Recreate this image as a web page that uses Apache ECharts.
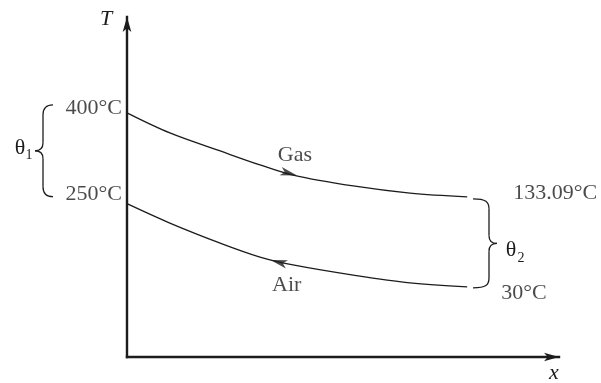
<!DOCTYPE html>
<html>
<head>
<meta charset="utf-8">
<script src="https://cdn.jsdelivr.net/npm/echarts@6/dist/echarts.min.js"></script>
<style>
  html, body { margin: 0; padding: 0; background: #fff; }
  #chart { width: 601px; height: 383px; }
</style>
</head>
<body>
<div id="chart"></div>
<script>
// Position along the exchanger (0 = left end, 1 = right end)
const positions = [0, 0.126, 0.274, 0.391, 0.488, 0.665, 0.832, 1.0];
// Schematic temperature levels of the two streams (sketch, not to scale)
const gasLevel = [71.8, 65.9, 60.6, 56.5, 53.5, 50.3, 48.2, 47.1];
const airLevel = [45.1, 39.4, 33.5, 29.4, 27.1, 24.1, 21.8, 20.6];
// Terminal temperatures in °C: [left end, right end]
const gasTemps = [400, 133.09];
const airTemps = [250, 30];
const streamNames = ['Gas', 'Air'];
// Where the flow-direction arrowhead sits on each stream
const gasArrow = [0.476, 54.0];
const airArrow = [0.446, 27.9];

const ink = '#1e1b1c';
const serif = "'Liberation Serif', 'Times New Roman', serif";
const fs = 22;
const last = positions.length - 1;

const chart = echarts.init(document.getElementById('chart'), null, { renderer: 'canvas' });

const pts = levels => positions.map((p, i) => [p, levels[i]]);
const fmt = t => t + '°C';
const textStyle = { color: ink, fontFamily: serif, fontSize: fs };

function endPoint(value, text, pos, distance, offset) {
  return { value: value,
           label: Object.assign({ show: true, position: pos, distance: distance,
                                  offset: offset, formatter: text }, textStyle) };
}

const axisCommon = {
  type: 'value',
  axisTick: { show: false },
  axisLabel: { show: false },
  splitLine: { show: false },
  axisLine: {
    show: true,
    symbol: ['none', 'arrow'],
    symbolSize: [6.5, 15],
    lineStyle: { color: ink, width: 2.4, cap: 'square' }
  }
};

const streamLine = (name, levels) => ({
  name: name, type: 'line', data: pts(levels),
  smooth: 0.35,
  showSymbol: false, symbol: 'none',
  lineStyle: { color: ink, width: 1.3 }, z: 3
});

chart.setOption({
  animation: false,
  backgroundColor: '#fff',
  grid: { left: 127, right: 42, top: 17, bottom: 26 },
  xAxis: Object.assign({}, axisCommon, { min: 0, max: 1.27 }),
  yAxis: Object.assign({}, axisCommon, { min: 0, max: 100 }),
  series: [
    streamLine(streamNames[0], gasLevel),
    streamLine(streamNames[1], airLevel),
    {
      // terminal temperatures written at the ends of each stream
      type: 'scatter', z: 5, symbolSize: 0, silent: true,
      data: [
        endPoint(pts(gasLevel)[0], fmt(gasTemps[0]), 'left', 5, [0, -5]),
        endPoint(pts(airLevel)[0], fmt(airTemps[0]), 'left', 5, [0, -9]),
        endPoint(pts(gasLevel)[last], fmt(gasTemps[1]), 'right', 46, [0, -4]),
        endPoint(pts(airLevel)[last], fmt(airTemps[1]), 'right', 34, [0, 6])
      ]
    },
    {
      // flow-direction arrowheads with stream names
      type: 'scatter', z: 4, silent: true,
      symbol: 'path://M0,0 L16,4 L0,8 L4,4 Z', symbolSize: [17, 8.5],
      itemStyle: { color: ink },
      data: [
        { value: gasArrow, symbolRotate: -15,
          label: Object.assign({ show: true, position: 'inside', offset: [6, -18],
                                 formatter: streamNames[0] }, textStyle) },
        { value: airArrow, symbolRotate: 165,
          label: Object.assign({ show: true, position: 'inside', offset: [8, 23],
                                 formatter: streamNames[1] }, textStyle) }
      ]
    }
  ]
});

// Braces marking the terminal temperature differences θ1 and θ2
function brace(xv, top, bot, s, endLen) {
  const mid = (top + bot) / 2;
  const endX = xv - s * endLen;
  const tipX = xv + s * 8;
  const st = { stroke: ink, fill: null, lineWidth: 1.3 };
  const bez = (x1, y1, c1x, c1y, c2x, c2y, x2, y2) => ({
    type: 'bezierCurve', z: 10, silent: true, style: st,
    shape: { x1: x1, y1: y1, cpx1: c1x, cpy1: c1y, cpx2: c2x, cpy2: c2y, x2: x2, y2: y2 }
  });
  const line = (x1, y1, x2, y2) => ({
    type: 'line', z: 10, silent: true, style: st,
    shape: { x1: x1, y1: y1, x2: x2, y2: y2 }
  });
  return [
    bez(endX, top, xv - s * 3, top, xv, top + 3, xv, top + 10),
    line(xv, top + 10, xv, mid - 8),
    bez(xv, mid - 8, xv, mid - 3, xv + s * 3, mid, tipX, mid),
    bez(tipX, mid, xv + s * 3, mid, xv, mid + 3, xv, mid + 8),
    line(xv, mid + 8, xv, bot - 10),
    bez(xv, bot - 10, xv, bot - 3, xv - s * 3, bot, endX, bot)
  ];
}
const toPx = v => chart.convertToPixel({ gridIndex: 0 }, v);
const gasL = toPx(pts(gasLevel)[0]);
const airL = toPx(pts(airLevel)[0]);
const gasR = toPx(pts(gasLevel)[last]);
const airR = toPx(pts(airLevel)[last]);

const lTop = gasL[1] - 8, lBot = airL[1] - 7, lMid = (lTop + lBot) / 2;
const rTop = gasR[1] + 2, rBot = airR[1] + 1, rMid = (rTop + rBot) / 2;
const lx = 43, rx = 489;

function txt(x, y, text, size, italic) {
  return { type: 'text', x: x, y: y, z: 10, silent: true,
           style: { text: text, fill: ink, fontFamily: serif, fontSize: size,
                    fontStyle: italic ? 'italic' : 'normal',
                    textAlign: 'center', textVerticalAlign: 'middle' } };
}

chart.setOption({
  graphic: [].concat(
    brace(lx, lTop, lBot, -1, 10),
    brace(rx, rTop, rBot, 1, 16),
    [
      txt(lx - 23, lMid - 3, 'θ', fs),
      txt(lx - 14, lMid + 5, '1', 14),
      txt(rx + 22, rMid + 7, 'θ', fs),
      txt(rx + 32, rMid + 15, '2', 14),
      txt(106, 19, 'T', fs, true),
      txt(554, 373, 'x', fs, true)
    ]
  )
});
</script>
</body>
</html>
